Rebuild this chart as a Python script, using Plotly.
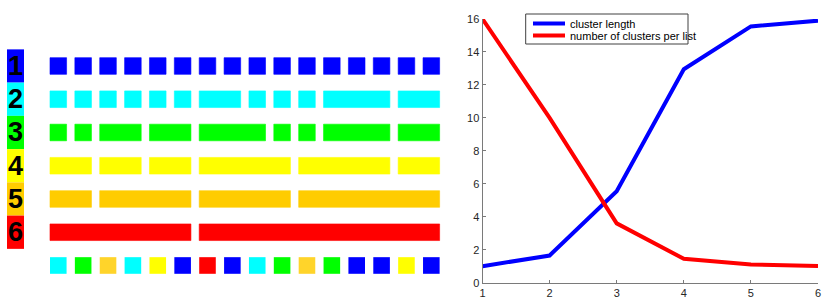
import numpy as np
import plotly.graph_objects as go

# ---------------- data ----------------
row_labels = ["1", "2", "3", "4", "5", "6"]
row_colors = ["#0000FF", "#00FFFF", "#00FF00", "#FFFF00", "#FFCC00", "#FF0000"]
segments = [
    [1] * 16,
    [1, 1, 1, 1, 1, 1, 2, 1, 1, 1, 3, 2],
    [1, 1, 2, 2, 3, 1, 1, 3, 2],
    [2, 2, 2, 4, 4, 2],
    [2, 4, 4, 6],
    [6, 10],
]
bottom_levels = [2, 3, 5, 2, 4, 1, 6, 1, 2, 3, 5, 3, 1, 1, 4, 1]
bottom_colors_map = {1: "#0000FF", 2: "#00FFFF", 3: "#00FF00", 4: "#FFFF00", 5: "#FFD42A", 6: "#FF0000"}

levels = [1, 2, 3, 4, 5, 6]
cluster_length = [1.0, 1.65, 5.55, 12.95, 15.55, 15.9]
clusters_per_list = [16.0, 10.0, 3.6, 1.45, 1.1, 1.02]

# ---------------- figure ----------------
W, H = 831, 299
fig = go.Figure()

GAP = 0.333
BAR_H = 0.5

# label column
fig.add_trace(go.Bar(
    y=[i + 1 for i in range(len(row_labels))],
    x=[0.683] * len(row_labels),
    base=[-1.562] * len(row_labels),
    orientation="h", width=1.0,
    marker=dict(color=row_colors, line=dict(width=0)),
    xaxis="x", yaxis="y", showlegend=False, hoverinfo="skip",
))

# segment rows
for r, segs in enumerate(segments):
    starts = np.concatenate([[0], np.cumsum(segs)[:-1]])
    fig.add_trace(go.Bar(
        y=[r + 1] * len(segs),
        x=[s - GAP for s in segs],
        base=[st + GAP / 2 for st in starts],
        orientation="h", width=BAR_H,
        marker=dict(color=row_colors[r], line=dict(width=0.6, color=row_colors[r])),
        xaxis="x", yaxis="y", showlegend=False,
    ))

# bottom mixed row
fig.add_trace(go.Bar(
    y=[7] * len(bottom_levels),
    x=[1 - GAP] * len(bottom_levels),
    base=[i + GAP / 2 for i in range(len(bottom_levels))],
    orientation="h", width=BAR_H,
    marker=dict(color=[bottom_colors_map[v] for v in bottom_levels], line=dict(width=0)),
    xaxis="x", yaxis="y", showlegend=False,
))

# line chart
fig.add_trace(go.Scatter(x=levels, y=cluster_length, mode="lines",
                         line=dict(color="#0000FF", width=4),
                         name="cluster length", xaxis="x2", yaxis="y2", showlegend=False))
fig.add_trace(go.Scatter(x=levels, y=clusters_per_list, mode="lines",
                         line=dict(color="#FF0000", width=4),
                         name="number of clusters per list", xaxis="x2", yaxis="y2", showlegend=False))

annotations = []
for i, lab in enumerate(row_labels):
    annotations.append(dict(x=-1.22, y=i + 1, xref="x", yref="y", text="<b>%s</b>" % lab,
                            showarrow=False, font=dict(family="Liberation Sans, Arial", size=27, color="#000000"),
                            xanchor="center", yanchor="middle"))

# manual legend
lx0, lx1, ly0, ly1 = 525.7, 688, 14, 44
shapes = [
    dict(type="rect", xref="paper", yref="paper",
         x0=lx0 / W, x1=lx1 / W, y0=1 - ly1 / H, y1=1 - ly0 / H,
         line=dict(color="#404040", width=1), fillcolor="white", layer="above"),
    dict(type="line", xref="paper", yref="paper", x0=533 / W, x1=565 / W,
         y0=1 - 23.5 / H, y1=1 - 23.5 / H, line=dict(color="#0000FF", width=4), layer="above"),
    dict(type="line", xref="paper", yref="paper", x0=533 / W, x1=565 / W,
         y0=1 - 35.5 / H, y1=1 - 35.5 / H, line=dict(color="#FF0000", width=4), layer="above"),
]
for name, yy in [("cluster length", 23.5), ("number of clusters per list", 35.5)]:
    annotations.append(dict(x=567.5 / W, y=1 - yy / H, xref="paper", yref="paper", text=name,
                            showarrow=False, xanchor="left", yanchor="middle",
                            font=dict(family="Liberation Sans, Arial", size=11, color="#000000")))

fig.update_layout(
    width=W, height=H, autosize=False,
    margin=dict(l=0, r=0, t=0, b=0, pad=0),
    paper_bgcolor="white", plot_bgcolor="white",
    barmode="overlay",
    xaxis=dict(domain=[0, 460 / W], range=[-1.8436, 16.653], visible=False, fixedrange=True,
               automargin=False),
    yaxis=dict(domain=[0, 1], range=[8.008, -0.985], visible=False, fixedrange=True,
               automargin=False),
    xaxis2=dict(domain=[482.5 / W, 818 / W], range=[1, 6], anchor="y2", automargin=False,
                tickvals=[1, 2, 3, 4, 5, 6], showline=True, linecolor="#7a7a7a", linewidth=1,
                ticks="inside", ticklen=3, tickcolor="#7a7a7a", showgrid=False, zeroline=False,
                tickfont=dict(family="Liberation Sans, Arial", size=11, color="#262626")),
    yaxis2=dict(domain=[(H - 282.7) / H, (H - 19) / H], range=[0, 16], anchor="x2", automargin=False,
                tickvals=list(range(0, 17, 2)), showline=True, linecolor="#7a7a7a", linewidth=1,
                ticks="inside", ticklen=3, tickcolor="#7a7a7a", showgrid=False, zeroline=False,
                tickfont=dict(family="Liberation Sans, Arial", size=11, color="#262626")),
    annotations=annotations,
    shapes=shapes,
    showlegend=False,
)

fig.write_html(
    "out.html",
    config={"displayModeBar": False},
    post_script="document.body.style.margin='0';document.body.style.padding='0';document.body.style.overflow='hidden';",
)
